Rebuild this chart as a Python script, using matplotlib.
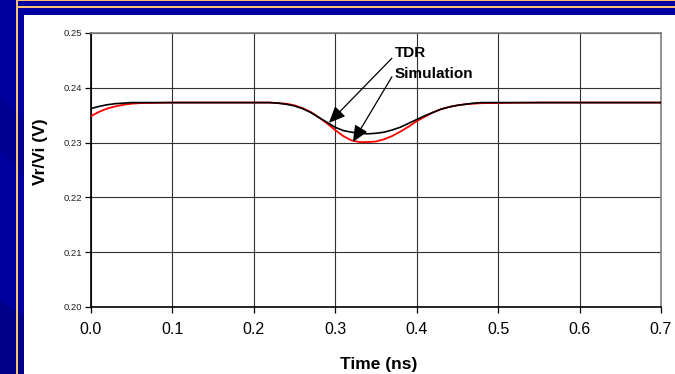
import matplotlib
matplotlib.use("Agg")
import matplotlib.pyplot as plt
from matplotlib.patches import Rectangle, Polygon

plt.rcParams['font.family'] = ['Liberation Sans', 'DejaVu Sans']

# ---- data ----
tdr_t = [0.00, 0.01, 0.02, 0.03, 0.04, 0.05, 0.10, 0.15, 0.20, 0.22, 0.23, 0.24, 0.25,
         0.26, 0.27, 0.28, 0.29, 0.30, 0.31, 0.32, 0.33, 0.34, 0.35, 0.36, 0.37,
         0.38, 0.39, 0.40, 0.41, 0.42, 0.43, 0.44, 0.45, 0.46, 0.47, 0.48, 0.55,
         0.60, 0.65, 0.70]
tdr_v = [0.2362, 0.2366, 0.2369, 0.2371, 0.2372, 0.2373, 0.2373, 0.2373, 0.2373, 0.2373,
         0.2372, 0.2370, 0.2367, 0.2362, 0.2355, 0.2346, 0.2337, 0.2328, 0.2322,
         0.2319, 0.2317, 0.2316, 0.2317, 0.2319, 0.2323, 0.2328, 0.2335, 0.2342,
         0.2349, 0.2355, 0.2361, 0.2365, 0.2368, 0.2370, 0.2372, 0.2373, 0.2373,
         0.2373, 0.2373, 0.2373]

sim_t = [0.00, 0.01, 0.02, 0.03, 0.04, 0.05, 0.06, 0.10, 0.15, 0.20, 0.22, 0.23, 0.24,
         0.25, 0.26, 0.27, 0.28, 0.29, 0.30, 0.31, 0.32, 0.33, 0.34, 0.35, 0.36,
         0.37, 0.38, 0.39, 0.40, 0.41, 0.42, 0.43, 0.44, 0.45, 0.46, 0.47, 0.48,
         0.55, 0.60, 0.65, 0.70]
sim_v = [0.2348, 0.2356, 0.2362, 0.2366, 0.2369, 0.2371, 0.2372, 0.2373, 0.2373, 0.2373,
         0.2373, 0.2372, 0.2371, 0.2368, 0.2363, 0.2356, 0.2346, 0.2335, 0.2323,
         0.2312, 0.2304, 0.2301, 0.2301, 0.2302, 0.2306, 0.2312, 0.2320, 0.2329,
         0.2339, 0.2347, 0.2355, 0.2361, 0.2365, 0.2368, 0.2370, 0.2371, 0.2372,
         0.2373, 0.2373, 0.2373, 0.2373]

x_ticks = [0.0, 0.1, 0.2, 0.3, 0.4, 0.5, 0.6, 0.7]
y_ticks = [0.20, 0.21, 0.22, 0.23, 0.24, 0.25]

W, H = 675, 374
fig = plt.figure(figsize=(W / 100, H / 100), dpi=100)
BLUE = '#0000A0'
ORANGE = '#F8C070'
fig.patch.set_facecolor(BLUE)

def px_rect(x0, y0, x1, y1, color, z=0):
    fig.patches.append(Rectangle((x0 / W, 1 - y1 / H), (x1 - x0) / W, (y1 - y0) / H,
                                 transform=fig.transFigure, facecolor=color,
                                 edgecolor='none', zorder=z))

# decorative darker bands on the left
fig.patches.append(Polygon([(0, 1 - 95 / H), (24 / W, 1 - 120 / H), (24 / W, 1 - 175 / H),
                            (0, 1 - 150 / H)], closed=True, transform=fig.transFigure,
                           facecolor='#000090', edgecolor='none', zorder=0))
fig.patches.append(Polygon([(0, 1 - 300 / H), (24 / W, 1 - 315 / H), (24 / W, 1 - 374 / H),
                            (0, 1 - 374 / H)], closed=True, transform=fig.transFigure,
                           facecolor='#000088', edgecolor='none', zorder=0))
# orange frame lines
px_rect(16, 0, W, 1.3, ORANGE, 1)
px_rect(16, 6.3, W, 8.0, ORANGE, 1)
px_rect(16, 0, 17.8, H, ORANGE, 1)
# white panel
px_rect(24, 15, W, H, 'white', 1)

ax = fig.add_axes([90.7 / W, 1 - 307 / H, (661 - 90.7) / W, (307 - 33) / H])
ax.set_zorder(2)
ax.set_facecolor('white')

ax.plot(sim_t, sim_v, color='#FF0000', lw=1.3, zorder=3)
ax.plot(tdr_t, tdr_v, color='black', lw=1.2, zorder=4)

ax.set_xlim(0, 0.7)
ax.set_ylim(0.20, 0.25)
ax.set_xticks(x_ticks)
ax.set_yticks(y_ticks)
ax.set_xticklabels([f'{v:.1f}' for v in x_ticks], fontsize=11.5)
ax.set_yticklabels([f'{v:.2f}' for v in y_ticks], fontsize=6.8, color='#222222')
ax.tick_params(axis='both', direction='out', length=4, width=0.9, color='black')
ax.tick_params(axis='x', pad=7)
ax.tick_params(axis='y', pad=2)
ax.grid(True, color='#303030', lw=0.8)
ax.set_axisbelow(True)
for s in ['left', 'bottom']:
    ax.spines[s].set_color('black')
    ax.spines[s].set_linewidth(1.2)
for s in ['top', 'right']:
    ax.spines[s].set_color('#808080')
    ax.spines[s].set_linewidth(1.2)

fig.text(379 / W, 1 - 365 / H, 'Time (ns)', fontsize=12.5, fontweight='bold',
         ha='center', va='center')
fig.text(40 / W, 1 - 152 / H, 'Vr/Vi (V)', fontsize=12.5, fontweight='bold',
         ha='center', va='center', rotation=90)

arrow = dict(arrowstyle='-|>,head_length=0.5,head_width=0.22', color='black', lw=0.9,
             mutation_scale=20, shrinkA=0, shrinkB=0)
ax.annotate('', xy=(0.2924, 0.2336), xytext=(0.3697, 0.2454), arrowprops=arrow, zorder=6)
ax.annotate('', xy=(0.3218, 0.2301), xytext=(0.3697, 0.2420), arrowprops=arrow, zorder=6)
ax.text(0.3735, 0.2463, 'TDR', fontsize=11, fontweight='bold', va='center', ha='left')
ax.text(0.3735, 0.2426, 'Simulation', fontsize=11, fontweight='bold', va='center', ha='left')

fig.savefig('out.png', dpi=100, facecolor=fig.get_facecolor())
